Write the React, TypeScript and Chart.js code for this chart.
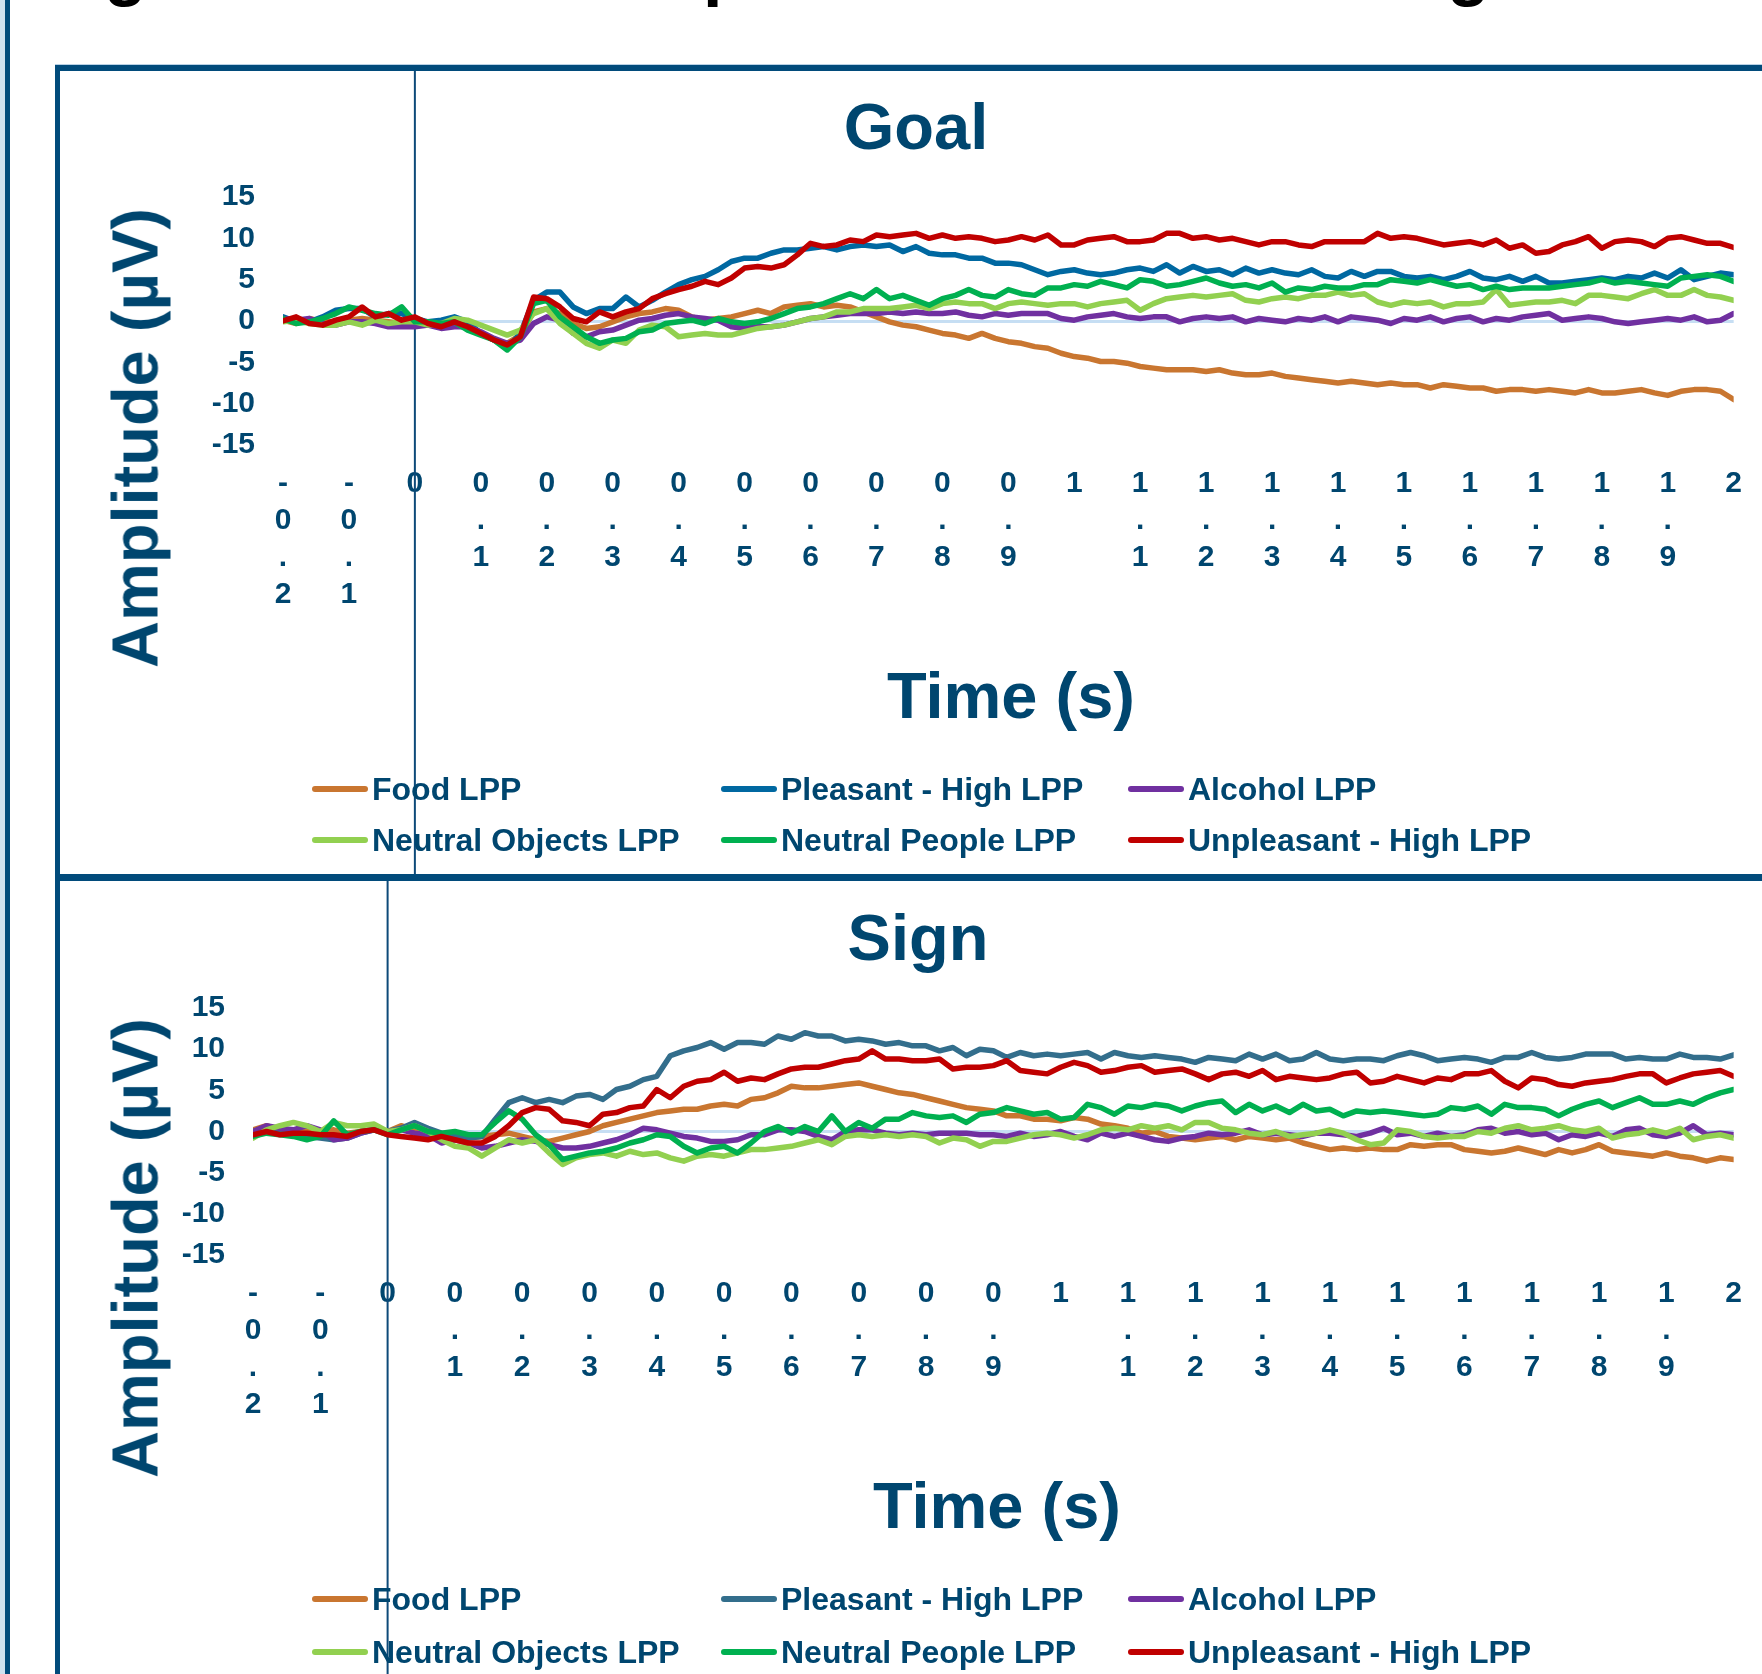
import React, { useEffect, useRef } from "react";
import { Chart, registerables } from "chart.js";

Chart.register(...registerables);

// ---------- data ----------
const TIME_S = [
  -0.2, -0.18, -0.16, -0.14, -0.12, -0.1, -0.08, -0.06, -0.04, -0.02,
  0, 0.02, 0.04, 0.06, 0.08, 0.1, 0.12, 0.14, 0.16, 0.18,
  0.2, 0.22, 0.24, 0.26, 0.28, 0.3, 0.32, 0.34, 0.36, 0.38,
  0.4, 0.42, 0.44, 0.46, 0.48, 0.5, 0.52, 0.54, 0.56, 0.58,
  0.6, 0.62, 0.64, 0.66, 0.68, 0.7, 0.72, 0.74, 0.76, 0.78,
  0.8, 0.82, 0.84, 0.86, 0.88, 0.9, 0.92, 0.94, 0.96, 0.98,
  1, 1.02, 1.04, 1.06, 1.08, 1.1, 1.12, 1.14, 1.16, 1.18,
  1.2, 1.22, 1.24, 1.26, 1.28, 1.3, 1.32, 1.34, 1.36, 1.38,
  1.4, 1.42, 1.44, 1.46, 1.48, 1.5, 1.52, 1.54, 1.56, 1.58,
  1.6, 1.62, 1.64, 1.66, 1.68, 1.7, 1.72, 1.74, 1.76, 1.78,
  1.8, 1.82, 1.84, 1.86, 1.88, 1.9, 1.92, 1.94, 1.96, 1.98,
  2,
];

const X_TICKS = [
  -0.2, -0.1, 0, 0.1, 0.2, 0.3, 0.4, 0.5, 0.6, 0.7, 0.8, 0.9,
  1, 1.1, 1.2, 1.3, 1.4, 1.5, 1.6, 1.7, 1.8, 1.9, 2,
];
const Y_TICKS = [-15, -10, -5, 0, 5, 10, 15];

const SERIES_NAMES = [
  "Food LPP",
  "Pleasant - High LPP",
  "Alcohol LPP",
  "Neutral Objects LPP",
  "Neutral People LPP",
  "Unpleasant - High LPP",
];
const GOAL_COLORS = ["#C97630", "#0068A1", "#7030A0", "#92D050", "#00B050", "#C00000"];
const SIGN_COLORS = ["#C97630", "#336E8C", "#7030A0", "#92D050", "#00B050", "#C00000"];

// Goal panel (µV), t = -0.2 .. 2.0 step 0.02
const GOAL_FOOD = [
  0.1, -0.3, 0.3, -0.1, -0.1, 0.1, 0.3, 0.1, -0.1, -0.3,
  -0.1, -0.5, -0.3, -0.3, -0.7, -1.5, -2.3, -2.7, -1.7, 1.1,
  1.5, 0.9, -0.3, -0.9, -0.7, -0.1, 0.5, 0.9, 1.1, 1.5,
  1.3, 0.5, 0.1, 0.3, 0.5, 0.9, 1.3, 0.9, 1.7, 1.9,
  2.1, 1.7, 1.9, 1.7, 1.1, 0.5, -0.1, -0.5, -0.7, -1.1,
  -1.5, -1.7, -2.1,
  -1.5, -2.1, -2.5, -2.7, -3.1, -3.3, -3.9, -4.3,
  -4.5, -4.9, -4.9, -5.1, -5.5, -5.7, -5.9, -5.9, -5.9, -6.1,
  -5.9, -6.3, -6.5, -6.5, -6.3, -6.7, -6.9, -7.1, -7.3, -7.5,
  -7.3, -7.5, -7.7, -7.5, -7.7, -7.7, -8.1, -7.7, -7.9, -8.1,
  -8.1, -8.5, -8.3, -8.3, -8.5, -8.3, -8.5, -8.7, -8.3, -8.7,
  -8.7, -8.5, -8.3, -8.7, -9.0, -8.5, -8.3, -8.3, -8.5, -9.5,
];
const GOAL_PLEASANT = [
  0.5, -0.1, -0.1, 0.5, 1.3, 1.5, 1.5, 0.5, 0.9, 0.9,
  0.3, -0.1, 0.1, 0.5, -0.1, -1.5, -2.3, -3.3, -1.5, 2.5,
  3.5, 3.5, 1.7, 0.9, 1.5, 1.5, 2.9, 1.7, 2.5, 3.5,
  4.4, 5.0, 5.4, 6.2, 7.2, 7.6, 7.6, 8.2, 8.6, 8.6,
  8.8, 9.0, 8.6, 9.0, 9.2, 9.0, 9.2, 8.4, 9.0, 8.2,
  8.0, 8.0, 7.6,
  7.6, 7.0, 7.0, 6.8, 6.2, 5.6, 6.0, 6.2,
  5.8, 5.6, 5.8, 6.2, 6.4, 6.0, 6.8, 5.8, 6.6, 6.0,
  6.2, 5.6, 6.4, 5.8, 6.2, 5.8, 5.6, 6.2, 5.4, 5.2,
  6.0, 5.4, 6.0, 6.0, 5.4, 5.2, 5.4, 5.0, 5.4, 6.0,
  5.2, 5.0, 5.4, 4.8, 5.4, 4.6, 4.6, 4.8, 5.0, 5.2,
  5.0, 5.4, 5.2, 5.8, 5.2, 6.2, 5.0, 5.4, 5.8, 5.6,
];
const GOAL_ALCOHOL = [
  0.3, 0.1, 0.3, -0.3, -0.5, -0.1, -0.1, -0.3, -0.7, -0.7,
  -0.7, -0.5, -0.9, -0.7, -0.7, -1.3, -2.1, -2.7, -2.3, -0.3,
  0.5, 0.1, -1.5, -1.9, -1.3, -1.1, -0.5, 0.1, 0.3, 0.7,
  0.9, 0.5, 0.3, 0.1, -0.7, -0.9, -0.7, -0.7, -0.5, -0.1,
  0.3, 0.5, 0.7, 0.9, 0.9, 0.9, 1.1, 0.9, 1.1, 0.9,
  0.9, 1.1, 0.7,
  0.5, 0.9, 0.7, 0.9, 0.9, 0.9, 0.3, 0.1,
  0.5, 0.7, 0.9, 0.5, 0.3, 0.5, 0.5, -0.1, 0.3, 0.5,
  0.3, 0.5, -0.1, 0.3, 0.1, -0.1, 0.3, 0.1, 0.5, -0.1,
  0.5, 0.3, 0.1, -0.3, 0.3, 0.1, 0.5, -0.1, 0.3, 0.5,
  -0.1, 0.3, 0.1, 0.5, 0.7, 0.9, 0.1, 0.3, 0.5, 0.3,
  -0.1, -0.3, -0.1, 0.1, 0.3, 0.1, 0.5, -0.1, 0.1, 0.9,
];
const GOAL_NEUTRAL_OBJECTS = [
  -0.1, 0.1, -0.3, -0.5, -0.5, -0.1, -0.5, 0.1, -0.3, -0.1,
  -0.1, -0.5, -0.3, 0.3, 0.1, -0.5, -1.1, -1.7, -1.1, 0.9,
  1.5, -0.3, -1.5, -2.7, -3.3, -2.3, -2.7, -1.1, -0.5, -0.7,
  -1.9, -1.7, -1.5, -1.7, -1.7, -1.3, -0.9, -0.7, -0.5, -0.1,
  0.3, 0.5, 1.1, 1.1, 1.5, 1.5, 1.5, 1.7, 1.9, 1.5,
  2.1, 2.3, 2.1,
  2.1, 1.5, 2.1, 2.3, 2.1, 1.9, 2.1, 2.1,
  1.7, 2.1, 2.3, 2.5, 1.3, 2.1, 2.7, 2.9, 3.1, 2.9,
  3.1, 3.3, 2.5, 2.3, 2.7, 2.9, 2.7, 3.1, 3.1, 3.5,
  3.1, 3.3, 2.3, 1.9, 2.3, 2.1, 2.3, 1.7, 2.1, 2.1,
  2.3, 3.8, 1.9, 2.1, 2.3, 2.3, 2.5, 2.1, 3.1, 3.1,
  2.9, 2.7, 3.3, 3.8, 3.1, 3.1, 3.8, 3.1, 2.9, 2.5,
];
const GOAL_NEUTRAL_PEOPLE = [
  0.3, -0.3, -0.1, 0.3, 0.9, 1.7, 1.3, 0.9, 0.7, 1.7,
  -0.1, -0.1, -0.3, -0.1, -1.1, -1.7, -2.3, -3.5, -1.9, 2.1,
  2.5, 0.5, -0.7, -1.9, -2.7, -2.3, -2.1, -1.3, -1.1, -0.3,
  -0.1, 0.1, -0.3, 0.3, -0.1, -0.3, -0.1, 0.3, 0.9, 1.5,
  1.7, 2.1, 2.7, 3.3, 2.7, 3.8, 2.7, 3.1, 2.5, 1.9,
  2.7, 3.1, 3.8,
  3.1, 2.9, 3.8, 3.3, 3.1, 4.0, 4.0, 4.4,
  4.2, 4.8, 4.4, 4.0, 5.0, 4.8, 4.2, 4.4, 4.8, 5.2,
  4.6, 4.2, 4.4, 4.0, 4.6, 3.5, 4.0, 3.8, 4.2, 4.0,
  4.0, 4.4, 4.4, 5.0, 4.8, 4.6, 5.0, 4.6, 4.2, 4.4,
  3.8, 4.2, 3.8, 4.0, 4.0, 4.0, 4.2, 4.4, 4.6, 5.0,
  4.6, 4.8, 4.6, 4.4, 4.2, 5.2, 5.4, 5.6, 5.4, 4.8,
];
const GOAL_UNPLEASANT = [
  0.0, 0.5, -0.3, -0.5, 0.1, 0.5, 1.7, 0.5, 0.9, 0.1,
  0.5, -0.3, -0.7, -0.1, -0.7, -1.5, -2.3, -2.9, -1.9, 2.9,
  2.7, 1.7, 0.3, -0.1, 1.1, 0.5, 1.1, 1.5, 2.7, 3.3,
  3.8, 4.2, 4.8, 4.4, 5.2, 6.4, 6.6, 6.4, 6.8, 8.0,
  9.4, 9.0, 9.2, 9.8, 9.6, 10.4, 10.2, 10.4, 10.6, 10.0,
  10.4, 10.0, 10.2,
  10.0, 9.6, 9.8, 10.2, 9.8, 10.4, 9.2, 9.2,
  9.8, 10.0, 10.2, 9.6, 9.6, 9.8, 10.6, 10.6, 10.0, 10.2,
  9.8, 10.0, 9.6, 9.2, 9.6, 9.6, 9.2, 9.0, 9.6, 9.6,
  9.6, 9.6, 10.6, 10.0, 10.2, 10.0, 9.6, 9.2, 9.4, 9.6,
  9.2, 9.8, 8.8, 9.2, 8.2, 8.4, 9.2, 9.6, 10.2, 8.8,
  9.6, 9.8, 9.6, 9.0, 10.0, 10.2, 9.8, 9.4, 9.4, 8.9,
];

// Sign panel (µV), t = -0.2 .. 2.0 step 0.02
const SIGN_FOOD = [
  0.2, 0.7, 0.2, 0.0, 0.2, 0.0, 0.2, -0.2, 0.0, 0.2,
  0.0, 0.7, 0.2, -0.2, -0.6, -1.0, -0.8, -0.6, -0.4, -0.2,
  -0.6, -1.0, -1.2, -0.8, -0.4, 0.0, 0.7, 1.1, 1.5, 1.9,
  2.3, 2.5, 2.7, 2.7, 3.1, 3.3, 3.1, 3.9, 4.1, 4.7,
  5.5, 5.3, 5.3, 5.5, 5.7, 5.9, 5.5, 5.1, 4.7, 4.5,
  4.1, 3.7, 3.3,
  2.9, 2.7, 2.5, 1.9, 1.9, 1.5, 1.5, 1.3,
  1.7, 1.5, 0.9, 0.7, 0.4, -0.2, 0.0, -0.6, -0.8, -1.0,
  -0.8, -0.6, -1.0, -0.6, -0.8, -1.0, -0.8, -1.4, -1.8, -2.2,
  -2.0, -2.2, -2.0, -2.2, -2.2, -1.6, -1.8, -1.6, -1.6, -2.2,
  -2.4, -2.6, -2.4, -2.0, -2.4, -2.8, -2.2, -2.6, -2.2, -1.6,
  -2.4, -2.6, -2.8, -3.0, -2.6, -3.0, -3.2, -3.6, -3.2, -3.4,
];
const SIGN_PLEASANT = [
  0.0, 0.2, -0.2, 0.0, -0.6, -0.8, -1.0, -0.8, -0.2, 0.2,
  0.0, 0.4, 1.1, 0.4, -0.2, -0.4, -0.8, -0.6, 1.5, 3.5,
  4.1, 3.5, 3.9, 3.5, 4.3, 4.5, 3.9, 5.1, 5.5, 6.3,
  6.7, 9.2, 9.8, 10.2, 10.8, 10.0, 10.8, 10.8, 10.6, 11.6,
  11.2, 12.0, 11.6, 11.6, 11.0, 11.2, 11.0, 10.6, 10.8, 10.4,
  10.4, 9.8, 10.2,
  9.2, 10.0, 9.8, 9.0, 9.6, 9.2, 9.4, 9.2,
  9.4, 9.6, 8.8, 9.6, 9.2, 9.0, 9.2, 9.0, 8.8, 8.4,
  9.0, 8.8, 8.6, 9.4, 8.8, 9.4, 8.6, 8.8, 9.6, 8.8,
  8.6, 8.8, 8.8, 8.6, 9.2, 9.6, 9.2, 8.6, 8.8, 9.0,
  8.8, 8.4, 9.0, 9.0, 9.6, 9.0, 8.8, 9.0, 9.4, 9.4,
  9.4, 8.8, 9.0, 8.8, 8.8, 9.4, 9.0, 9.0, 8.8, 9.3,
];
const SIGN_ALCOHOL = [
  0.0, 0.7, 0.4, 0.2, 0.7, 0.2, -1.0, -0.8, -0.2, 0.2,
  0.0, 0.2, -0.2, -0.4, -1.4, -1.0, -1.4, -2.0, -1.8, -1.4,
  -1.0, -1.2, -1.6, -2.0, -2.0, -1.8, -1.4, -1.0, -0.4, 0.4,
  0.2, -0.2, -0.6, -0.8, -1.2, -1.2, -1.0, -0.4, -0.4, 0.2,
  0.2, 0.0, -0.6, -1.0, 0.0, 0.2, 0.2, -0.2, -0.4, -0.2,
  -0.4, -0.2, -0.2,
  -0.2, -0.4, -0.4, -0.6, -0.2, -0.6, -0.4, 0.0,
  -0.6, -1.0, -0.2, -0.6, -0.2, -0.6, -1.0, -1.2, -0.8, -0.6,
  -0.2, -0.4, -0.2, 0.2, -0.4, -0.2, -0.4, -0.6, -0.2, -0.2,
  -0.4, -0.6, -0.2, 0.4, -0.4, -0.2, -0.6, -0.2, -0.6, -0.4,
  0.2, 0.4, -0.2, 0.0, -0.4, -0.2, -1.0, -0.4, -0.6, -0.2,
  -0.6, 0.2, 0.4, -0.4, -0.6, -0.2, 0.7, -0.4, -0.2, -0.4,
];
const SIGN_NEUTRAL_OBJECTS = [
  -0.8, 0.2, 0.7, 1.1, 0.7, 0.0, 1.1, 0.7, 0.7, 0.9,
  0.0, 0.2, 0.7, 0.0, -1.0, -1.8, -2.0, -3.0, -2.0, -1.0,
  -1.4, -1.0, -2.6, -4.0, -3.2, -2.8, -2.6, -3.0, -2.4, -2.8,
  -2.6, -3.2, -3.6, -3.0, -2.8, -3.0, -2.6, -2.2, -2.2, -2.0,
  -1.8, -1.4, -1.0, -1.6, -0.6, -0.4, -0.6, -0.4, -0.6, -0.4,
  -0.6, -1.4, -0.8,
  -1.0, -1.8, -1.2, -1.2, -0.8, -0.4, -0.2, -0.4,
  -0.8, -0.4, 0.2, 0.4, 0.2, 0.7, 0.4, 0.7, 0.2, 1.1,
  1.1, 0.4, 0.2, -0.2, -0.4, 0.0, -0.6, -0.4, -0.2, 0.2,
  -0.2, -1.0, -1.6, -1.4, 0.2, 0.0, -0.6, -0.8, -0.6, -0.6,
  0.0, -0.2, 0.4, 0.7, 0.2, 0.4, 0.7, 0.2, 0.0, 0.4,
  -0.8, -0.4, -0.2, 0.2, -0.2, 0.4, -1.0, -0.6, -0.4, -0.8,
];
const SIGN_NEUTRAL_PEOPLE = [
  -0.6, -0.2, -0.4, -0.6, -1.0, -0.6, 1.3, -0.4, 0.0, 0.2,
  -0.4, 0.2, 0.7, 0.0, -0.2, 0.0, -0.4, -0.4, 1.1, 2.5,
  1.5, -0.4, -1.6, -3.4, -3.0, -2.6, -2.4, -2.0, -1.4, -1.0,
  -0.4, -0.6, -1.8, -2.6, -2.0, -1.8, -2.6, -1.4, 0.0, 0.6,
  -0.2, 0.6, 0.0, 1.9, 0.0, 1.1, 0.4, 1.5, 1.5, 2.3,
  1.9, 1.7, 1.9,
  1.1, 2.1, 2.3, 2.9, 2.5, 2.1, 2.3, 1.5,
  1.7, 3.3, 2.9, 2.1, 3.1, 2.9, 3.3, 3.1, 2.5, 3.1,
  3.5, 3.7, 2.3, 3.3, 2.5, 3.1, 2.3, 3.3, 2.5, 2.7,
  1.9, 2.5, 2.3, 2.5, 2.3, 2.1, 1.9, 2.1, 2.9, 2.7,
  3.1, 2.1, 3.3, 2.9, 2.9, 2.7, 1.9, 2.7, 3.3, 3.7,
  2.9, 3.5, 4.1, 3.3, 3.3, 3.7, 3.3, 4.1, 4.7, 5.1,
];
const SIGN_UNPLEASANT = [
  -0.4, 0.0, -0.4, -0.2, -0.2, -0.4, -0.4, -0.6, 0.0, 0.2,
  -0.4, -0.6, -0.8, -1.0, -0.6, -1.0, -1.4, -1.4, -0.6, 0.7,
  2.3, 2.9, 2.7, 1.3, 1.1, 0.7, 2.1, 2.3, 2.9, 3.1,
  5.1, 4.1, 5.5, 6.1, 6.3, 7.2, 6.1, 6.5, 6.3, 7.0,
  7.6, 7.8, 7.8, 8.2, 8.6, 8.8, 9.8, 8.8, 8.8, 8.6,
  8.6, 8.8, 7.6,
  7.8, 7.8, 8.0, 8.6, 7.4, 7.2, 7.0, 7.8,
  8.4, 8.0, 7.2, 7.4, 7.8, 8.0, 7.2, 7.4, 7.6, 7.0,
  6.3, 7.0, 7.2, 6.7, 7.4, 6.3, 6.7, 6.5, 6.3, 6.5,
  7.0, 7.2, 5.9, 6.1, 6.7, 6.3, 5.9, 6.5, 6.3, 7.0,
  7.0, 7.4, 6.1, 5.3, 6.5, 6.3, 5.7, 5.5, 5.9, 6.1,
  6.3, 6.7, 7.0, 7.0, 5.9, 6.5, 7.0, 7.2, 7.4, 6.7,
];

const GOAL_SERIES = [GOAL_FOOD, GOAL_PLEASANT, GOAL_ALCOHOL, GOAL_NEUTRAL_OBJECTS, GOAL_NEUTRAL_PEOPLE, GOAL_UNPLEASANT];
const SIGN_SERIES = [SIGN_FOOD, SIGN_PLEASANT, SIGN_ALCOHOL, SIGN_NEUTRAL_OBJECTS, SIGN_NEUTRAL_PEOPLE, SIGN_UNPLEASANT];

// ---------- styling ----------
const FONT = '"Liberation Sans", Arial, Helvetica, sans-serif';
const TEXT = "#00466F";
const BORDER = "#014B7B";
const PANEL_W = 1702;

const fmtTick = (v: number) => String(Math.round(v * 10) / 10);

const zeroTimeLine = {
  id: "zeroTimeLine",
  beforeDatasetsDraw(chart: any) {
    const x = chart.scales.x.getPixelForValue(0);
    const ctx = chart.ctx;
    ctx.save();
    ctx.strokeStyle = "#0D4A79";
    ctx.lineWidth = 2;
    ctx.beginPath();
    ctx.moveTo(x, 0);
    ctx.lineTo(x, chart.height);
    ctx.stroke();
    ctx.restore();
  },
};

type PanelProps = {
  top: number;
  height: number;
  title: string;
  titleX: number;
  titleY: number;
  timeX: number;
  timeY: number;
  areaLeft: number;
  areaTop: number;
  areaRight: number;
  areaBottom: number;
  series: number[][];
  colors: string[];
  legendRows: number[];
};

function Panel(p: PanelProps) {
  const ref = useRef<HTMLCanvasElement | null>(null);

  useEffect(() => {
    const canvas = ref.current;
    if (!canvas) return;
    const H = p.height;
    const chart = new Chart(canvas, {
      type: "line",
      data: {
        datasets: SERIES_NAMES.map((name, i) => ({
          label: name,
          data: TIME_S.map((t, j) => ({ x: t, y: p.series[i][j] })),
          borderColor: p.colors[i],
          backgroundColor: p.colors[i],
          borderWidth: 5.5,
          borderJoinStyle: "round",
          borderCapStyle: "round",
          pointRadius: 0,
          tension: 0,
          fill: false,
          order: SERIES_NAMES.length - 1 - i,
        })),
      },
      options: {
        animation: false,
        responsive: false,
        maintainAspectRatio: false,
        devicePixelRatio: 1,
        events: [],
        layout: {
          padding: { top: p.areaTop, left: 0, right: PANEL_W - p.areaRight, bottom: 0 },
        },
        plugins: {
          legend: { display: false },
          title: { display: false },
          tooltip: { enabled: false },
        },
        scales: {
          x: {
            type: "linear",
            min: -0.2,
            max: 2,
            afterBuildTicks: (s: any) => {
              s.ticks = X_TICKS.map((v) => ({ value: v }));
            },
            afterFit: (s: any) => {
              s.height = H - p.areaBottom;
            },
            grid: { display: false, drawTicks: false },
            border: { display: false },
            ticks: {
              autoSkip: false,
              maxRotation: 0,
              minRotation: 0,
              padding: 20,
              color: TEXT,
              font: { family: FONT, size: 30, weight: "bold", lineHeight: 37 / 30 },
              callback: (v: any) => fmtTick(Number(v)).split(""),
            },
          },
          y: {
            type: "linear",
            min: -15,
            max: 15,
            afterBuildTicks: (s: any) => {
              s.ticks = Y_TICKS.map((v) => ({ value: v }));
            },
            afterFit: (s: any) => {
              s.width = p.areaLeft;
            },
            grid: {
              drawTicks: false,
              color: (c: any) => (c.tick && c.tick.value === 0 ? "#C6DEF3" : "rgba(0,0,0,0)"),
              lineWidth: (c: any) => (c.tick && c.tick.value === 0 ? 3 : 0),
            },
            border: { display: false },
            ticks: {
              padding: 28,
              color: TEXT,
              font: { family: FONT, size: 30, weight: "bold" },
              callback: (v: any) => String(v),
            },
          },
        },
      } as any,
      plugins: [zeroTimeLine],
    });
    return () => chart.destroy();
  }, []);

  const bold = { fontFamily: FONT, fontWeight: 700, color: TEXT, whiteSpace: "nowrap" as const };
  const legendCols = [252, 661, 1068];

  return (
    <div style={{ position: "absolute", left: 60, top: p.top, width: PANEL_W, height: p.height }}>
      <canvas
        ref={ref}
        width={PANEL_W}
        height={p.height}
        style={{ position: "absolute", left: 0, top: 0, width: PANEL_W, height: p.height }}
      />
      <div
        style={{
          ...bold,
          position: "absolute",
          left: p.titleX,
          top: p.titleY,
          fontSize: 65,
          lineHeight: "65px",
          transform: "translate(-50%, -50%)",
        }}
      >
        {p.title}
      </div>
      <div
        style={{
          ...bold,
          position: "absolute",
          left: p.timeX,
          top: p.timeY,
          fontSize: 65,
          lineHeight: "65px",
          transform: "translate(-50%, -50%)",
        }}
      >
        Time (s)
      </div>
      <div
        style={{
          ...bold,
          position: "absolute",
          left: 75,
          top: 367,
          fontSize: 65,
          lineHeight: "65px",
          transform: "translate(-50%, -50%) rotate(-90deg)",
        }}
      >
        Amplitude (µV)
      </div>
      {SERIES_NAMES.map((name, i) => (
        <div
          key={name}
          style={{
            position: "absolute",
            left: legendCols[i % 3],
            top: p.legendRows[Math.floor(i / 3)] - 20,
            height: 40,
            display: "flex",
            alignItems: "center",
          }}
        >
          <div style={{ width: 56, height: 6, borderRadius: 3, background: p.colors[i] }} />
          <div style={{ ...bold, fontSize: 32, lineHeight: "40px", marginLeft: 4 }}>{name}</div>
        </div>
      ))}
    </div>
  );
}

export default function App() {
  const frag = { position: "absolute" as const, fontFamily: FONT, fontWeight: 700, fontSize: 70, lineHeight: "70px", color: "#000", top: -67 };
  return (
    <div
      style={{
        position: "absolute",
        left: 0,
        top: 0,
        width: 1762,
        height: 1674,
        overflow: "hidden",
        background: "#ffffff",
      }}
    >
      {/* cut-off poster heading above the figure */}
      <span style={{ ...frag, left: 104 }}>g</span>
      <span style={{ ...frag, left: 703 }}>p</span>
      <span style={{ ...frag, left: 1447 }}>g</span>

      {/* poster edge */}
      <div style={{ position: "absolute", left: 0, top: 0, width: 5, height: 1674, background: "#CFE1EF" }} />
      <div style={{ position: "absolute", left: 5, top: 0, width: 5, height: 1674, background: BORDER }} />

      {/* panel frames */}
      <div style={{ position: "absolute", left: 55, top: 64, width: 1707, height: 1, background: "#B9D1E5" }} />
      <div style={{ position: "absolute", left: 55, top: 65, width: 1707, height: 6, background: BORDER }} />
      <div style={{ position: "absolute", left: 55, top: 65, width: 5, height: 1609, background: BORDER }} />
      <div style={{ position: "absolute", left: 55, top: 874, width: 1707, height: 7, background: BORDER }} />

      <Panel
        top={71}
        height={803}
        title="Goal"
        titleX={856}
        titleY={55}
        timeX={951}
        timeY={624}
        areaLeft={223}
        areaTop={126}
        areaRight={1680}
        areaBottom={374}
        series={GOAL_SERIES}
        colors={GOAL_COLORS}
        legendRows={[718, 769]}
      />
      <Panel
        top={881}
        height={793}
        title="Sign"
        titleX={858}
        titleY={56}
        timeX={937}
        timeY={624}
        areaLeft={193}
        areaTop={127}
        areaRight={1678}
        areaBottom={374}
        series={SIGN_SERIES}
        colors={SIGN_COLORS}
        legendRows={[718, 771]}
      />
    </div>
  );
}
